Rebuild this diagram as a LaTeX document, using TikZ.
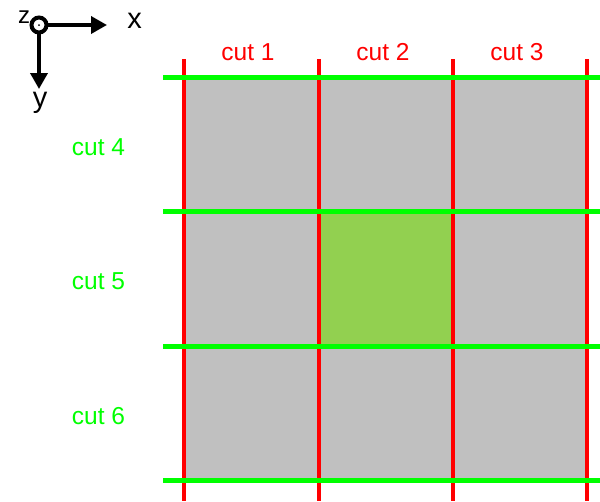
\documentclass[tikz,border=0pt]{standalone}
\usepackage{fontspec}
\setmainfont{Liberation Sans}
\usetikzlibrary{arrows.meta}
\definecolor{cellgray}{HTML}{C0C0C0}
\definecolor{cellgreen}{HTML}{92D050}
\definecolor{cutred}{HTML}{FF0000}
\definecolor{cutgreen}{HTML}{00FF00}
\tikzset{
  vcut/.style={draw=cutred, line width=4pt},
  hcut/.style={draw=cutgreen, line width=4.2pt},
  vlabel/.style={text=cutred, font=\fontsize{24.5}{28}\selectfont, inner sep=0pt},
  hlabel/.style={text=cutgreen, font=\fontsize{24.5}{28}\selectfont, inner sep=0pt},
  axis/.style={line width=3.6pt, -{Triangle[length=16pt,width=17pt]}},
  axislabel/.style={font=\fontsize{29}{32}\selectfont, inner sep=0pt},
}
\begin{document}
\begin{tikzpicture}[x=1pt,y=-1pt]
\useasboundingbox (0,0) rectangle (600,501);
% plate and the selected cell
\fill[cellgray] (184,77.5) rectangle (586.5,480.5);
\fill[cellgreen] (318.5,211.5) rectangle (453,346);
% vertical cuts
\coordinate (v1t) at (184,59);   \coordinate (v1b) at (184,501);
\coordinate (v2t) at (318.5,59); \coordinate (v2b) at (318.5,501);
\coordinate (v3t) at (453,59);   \coordinate (v3b) at (453,501);
\coordinate (v4t) at (586.5,59); \coordinate (v4b) at (586.5,501);
\draw[vcut] (v1t) -- (v1b);
\draw[vcut] (v2t) -- (v2b);
\draw[vcut] (v3t) -- (v3b);
\draw[vcut] (v4t) -- (v4b);
% horizontal cuts
\coordinate (h1l) at (163,77.5);  \coordinate (h1r) at (600,77.5);
\coordinate (h2l) at (163,211.5); \coordinate (h2r) at (600,211.5);
\coordinate (h3l) at (163,346);   \coordinate (h3r) at (600,346);
\coordinate (h4l) at (163,480.5); \coordinate (h4r) at (600,480.5);
\draw[hcut] (h1l) -- (h1r);
\draw[hcut] (h2l) -- (h2r);
\draw[hcut, line width=5pt] (h3l) -- (h3r);
\draw[hcut] (h4l) -- (h4r);
% cut labels
\node[vlabel] (c1) at (248,52) {cut 1};
\node[vlabel] (c2) at (383,52) {cut 2};
\node[vlabel] (c3) at (517,52) {cut 3};
\node[hlabel] (c4) at (98.5,147) {cut 4};
\node[hlabel] (c5) at (98.5,281) {cut 5};
\node[hlabel] (c6) at (98.5,416) {cut 6};
% coordinate system
\coordinate (o) at (39,25);
\coordinate (xe) at (107,25);
\coordinate (ye) at (39,89);
\draw[axis] (o) -- (xe);
\draw[axis] (o) -- (ye);
\node[circle, draw, line width=4pt, fill=white, minimum size=15pt, inner sep=0pt] (oc) at (o) {};
\fill (o) circle (1pt);
\node[axislabel] (lx) at (134.5,21) {x};
\node[axislabel] (ly) at (40,103) {y};
\node[axislabel, font=\fontsize{24}{28}\selectfont] (lz) at (24,17) {z};
\end{tikzpicture}
\end{document}
